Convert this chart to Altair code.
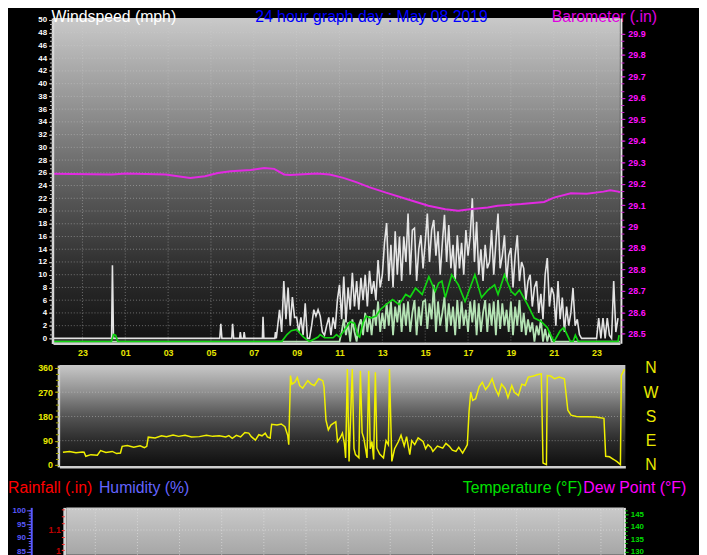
import altair as alt
import pandas as pd

W, H = 699, 547
FONT = "Liberation Sans"

# ---------------- axis domains / tick labels ----------------
X_DOMAIN = [-2.375, 24.09]          # hours of May 08 (negative = previous evening)
HOUR_TICKS = [-1, 1, 3, 5, 7, 9, 11, 13, 15, 17, 19, 21, 23]

WIND_DOMAIN = [-0.8, 50.3]
WIND_LABELS = [0, 2, 4, 6, 8, 10, 12, 14, 16, 18, 20, 22, 24, 26, 28, 30, 32, 34,
               36, 38, 40, 42, 44, 46, 48, 50]
WIND_GRID = [2, 4, 6, 8, 10, 12, 14, 16, 18, 20, 22, 24, 26, 28, 30, 32, 34, 36,
             38, 40, 42, 44, 46, 48]
BARO_DOMAIN = [28.456, 29.972]
BARO_LABELS = [28.5, 28.6, 28.7, 28.8, 28.9, 29.0, 29.1, 29.2, 29.3, 29.4, 29.5,
               29.6, 29.7, 29.8, 29.9]
DIR_DOMAIN = [-7.3, 371]
DIR_LABELS = [0, 90, 180, 270, 360]
DIR_GRID = [90, 180, 270]
HUM_DOMAIN = [83.9, 101.0]
HUM_LABELS = [85, 90, 95, 100]
RAIN_DOMAIN = [0.978, 1.211]
RAIN_LABELS = [1.0, 1.1]
RAIN_GRID = [1.1, 1.2]
TEMP_DOMAIN = [128.8, 147.7]
TEMP_LABELS = [130, 135, 140, 145]

# ---------------- data ----------------
# Wind gust (white), sparse early spikes (hour, mph)
GUST_EARLY = [(-2.375, 0), (0.36, 0), (0.40, 11.5), (0.45, 0), (5.41, 0), (5.46, 2.3),
              (5.51, 0), (5.97, 0), (6.01, 2.3), (6.06, 0), (6.34, 0), (6.37, 1.0),
              (6.41, 0), (6.52, 0), (6.55, 1.0), (6.59, 0), (7.40, 0), (7.43, 3.4),
              (7.47, 0), (7.98, 0), (8.01, 1.0), (8.05, 0)]
# Wind gust from 08:12, one reading every 6 minutes
GUST_START = 8.2
GUST = [4.5, 1.0, 9.0, 3.0, 8.0, 2.0, 6.5, 3.3,
        3.3, 1.0, 3.3, 0.5, 5.5, 0.0, 0.0, 2.0, 4.5, 3.5,
        4.5, 3.5, 1.0, 0.5, 2.0, 3.3, 0.5, 3.3, 1.5, 6.0,
        8.4, 3.0, 9.7, 2.5, 8.0, 4.5, 10.3, 5.0, 9.0, 4.5,
        9.5, 6.0, 10.0, 5.0, 10.6, 7.0, 9.0, 6.0, 12.3, 8.0,
        10.0, 15.0, 18.1, 9.0, 14.7, 8.0, 16.8, 10.0, 16.0, 9.0,
        16.0, 12.0, 19.6, 10.0, 17.0, 17.3, 9.0, 14.0, 16.2, 11.0,
        15.0, 19.6, 12.0, 17.0, 18.6, 13.0, 16.8, 10.0, 15.0, 19.4,
        12.0, 17.8, 11.0, 14.7, 9.0, 16.2, 11.0, 15.0, 10.0, 17.0,
        13.0, 16.0, 22.0, 12.0, 18.3, 10.0, 14.0, 9.0, 14.7, 11.0,
        12.0, 17.0, 10.0, 15.0, 19.6, 11.0, 13.0, 16.2, 9.0, 13.0,
        14.2, 8.0, 13.0, 16.2, 9.0, 12.0, 11.0, 6.0, 9.0, 10.0,
        5.0, 8.0, 9.0, 4.0, 7.0, 3.0, 10.0, 12.6, 5.0, 8.0,
        6.9, 2.0, 9.0, 3.0, 6.4, 1.0, 5.0, 2.0, 4.0, 7.9,
        2.0, 3.0, 0.6, 0.0, 0.0, 0.0, 0.0, 0.0, 0.0, 0.0,
        0.0, 3.2, 0.0, 3.2, 0.0, 3.2, 0.5, 0.0, 9.0, 1.0, 3.2]

# Wind speed (pale green) from 11:00, every 6 minutes; baseline drawn at -0.5
SPEED_START = 11.0
SPEED = [-0.5, 1.0, 3.0, 0.5, 2.5, -0.5, 3.0, 1.0, -0.5, 2.0,
         3.0, 0.5, 4.0, 1.0, 3.5, 0.5, 4.5, 2.0, 5.8, 1.0,
         4.0, 1.5, 5.5, 2.0, 5.8, 0.5, 5.0, 2.5, 6.0, 1.0,
         5.5, 2.0, 5.8, 1.0, 4.0, 6.0, 0.5, 5.0, 2.0, 5.8,
         6.0, 1.5, 5.5, 3.0, 8.4, 1.0, 5.8, 2.0, 4.0, 6.5,
         1.0, 5.5, 2.0, 5.0, 0.5, 6.0, 1.5, 5.8, 2.0, 4.5,
         1.0, 5.8, 2.5, 6.0, 0.5, 5.5, 1.0, 4.0, 6.0, 1.0,
         5.5, 2.0, 5.8, 0.5, 6.0, 1.5, 5.5, 2.0, 4.5, 1.0,
         5.8, 0.5, 5.0, 2.0, 6.0, 1.0, 4.0, 0.5, 3.0, 1.0,
         2.5, -0.5, 2.0, 0.5, 3.0, -0.5, 1.5, -0.5, 1.0, -0.5,
         -0.5]
SPEED_EDGES = [(-2.375, -0.5), (10.9, -0.5), (21.1, -0.5), (24.09, -0.5)]

# Average wind (green line)
AVG = [(-2.375, -0.5), (0.35, -0.5), (0.45, 0.6), (0.55, 0.5), (0.65, -0.5), (8.3, -0.5),
       (8.55, 0.6), (8.75, 1.2), (9.01, 1.4), (9.15, 0.8), (9.32, 0.2), (9.6, -0.5),
       (10.0, 0.2), (10.1, 0.6), (10.3, 0.1), (10.7, 0.1), (10.86, 0.6), (11.0, 0.2),
       (11.32, 1.7), (11.5, 2.6), (11.7, 2.4), (11.85, 0.5), (11.94, 0.2), (12.1, 2.5),
       (12.24, 3.5), (12.45, 3.2), (12.71, 3.5), (12.9, 4.5), (13.17, 5.3), (13.48, 6.1),
       (13.78, 5.3), (14.09, 6.9), (14.3, 6.5), (14.55, 7.9), (14.86, 6.9), (15.17, 9.7),
       (15.47, 7.4), (15.63, 8.7), (15.78, 9.0), (15.94, 6.4), (16.24, 10.0), (16.55, 8.4),
       (16.86, 5.8), (17.1, 8.0), (17.32, 10.0), (17.63, 6.4), (17.93, 7.6), (18.24, 8.4),
       (18.40, 6.9), (18.70, 10.0), (19.01, 7.4), (19.2, 6.8), (19.40, 7.6), (19.78, 5.3),
       (20.09, 3.2), (20.40, 2.7), (20.70, 1.7), (21.01, -0.5), (21.3, 1.2), (21.47, 1.7),
       (21.78, -0.5), (21.9, -0.5), (22.01, 0.5), (22.15, -0.5), (24.0, -0.5), (24.05, 0.5)]

# Barometer (inHg)
BARO = [(-2.375, 29.246), (0.38, 29.243), (1.03, 29.247), (2.88, 29.243), (4.03, 29.227),
        (4.72, 29.235), (5.32, 29.250), (5.92, 29.258), (6.85, 29.264), (7.49, 29.273),
        (7.95, 29.269), (8.41, 29.243), (8.69, 29.240), (9.94, 29.247), (10.54, 29.243),
        (11.18, 29.227), (11.78, 29.207), (12.38, 29.184), (13.17, 29.158), (14.09, 29.130),
        (15.15, 29.097), (15.94, 29.081), (16.54, 29.074), (17.09, 29.081), (17.92, 29.089),
        (18.38, 29.097), (19.49, 29.105), (20.55, 29.115), (21.01, 29.135), (21.80, 29.155),
        (22.54, 29.153), (23.32, 29.163), (23.64, 29.169), (24.01, 29.163), (24.09, 29.160)]

# Wind direction (degrees)
DIR = [(-2.21, 47), (-1.9, 50), (-1.6, 45), (-1.3, 48), (-1.22, 47), (-1.14, 32), (-0.9, 38),
       (-0.6, 36), (-0.45, 53), (-0.2, 46), (0.1, 50), (0.3, 42), (0.48, 44), (0.56, 69),
       (0.8, 72), (1.1, 66), (1.4, 71), (1.6, 64), (1.71, 69), (1.78, 103), (2.1, 100),
       (2.4, 108), (2.63, 105), (2.94, 111), (3.2, 106), (3.5, 110), (3.8, 104), (4.17, 105),
       (4.5, 110), (4.8, 106), (5.1, 108), (5.4, 104), (5.55, 109), (5.71, 99), (5.9, 110),
       (6.1, 104), (6.3, 120), (6.48, 118), (6.6, 105), (6.79, 92), (6.95, 112), (7.1, 108),
       (7.25, 118), (7.35, 104), (7.48, 99), (7.55, 151), (7.8, 148), (8.0, 152), (8.17, 142),
       (8.3, 110), (8.35, 75), (8.43, 332), (8.5, 300), (8.63, 307), (8.75, 325), (8.86, 295),
       (9.0, 285), (9.24, 313), (9.4, 300), (9.55, 295), (9.75, 320), (9.94, 313), (10.0, 290),
       (10.09, 166), (10.2, 130), (10.32, 148), (10.45, 155), (10.55, 160), (10.63, 87),
       (10.75, 100), (10.86, 118), (10.95, 80), (11.01, 26), (11.09, 356), (11.17, 13),
       (11.32, 356), (11.4, 60), (11.47, 38), (11.63, 26), (11.70, 350), (11.78, 120),
       (11.86, 99), (12.01, 26), (12.09, 350), (12.16, 60), (12.24, 87), (12.32, 20),
       (12.40, 344), (12.47, 62), (12.6, 40), (12.78, 26), (12.9, 90), (13.01, 75),
       (13.06, 356), (13.17, 13), (13.3, 60), (13.48, 87), (13.6, 110), (13.75, 70),
       (13.86, 105), (14.01, 38), (14.1, 90), (14.24, 75), (14.4, 100), (14.63, 87),
       (14.75, 60), (14.86, 75), (15.0, 65), (15.09, 50), (15.3, 70), (15.55, 62), (15.7, 80),
       (15.86, 69), (16.0, 55), (16.17, 50), (16.3, 65), (16.48, 44), (16.6, 60), (16.70, 75),
       (16.78, 197), (16.86, 271), (16.95, 240), (17.09, 246), (17.25, 290), (17.40, 307),
       (17.55, 280), (17.70, 295), (17.86, 320), (18.0, 285), (18.16, 258), (18.3, 300),
       (18.47, 283), (18.6, 250), (18.78, 295), (18.9, 270), (19.09, 258), (19.25, 300),
       (19.40, 295), (19.55, 326), (19.8, 330), (20.0, 336), (20.16, 338), (20.24, 7),
       (20.40, 1), (20.44, 332), (20.6, 330), (20.78, 320), (21.0, 326), (21.24, 320),
       (21.40, 203), (21.55, 185), (21.8, 180), (22.01, 179), (22.32, 179), (22.7, 178),
       (23.09, 173), (23.17, 32), (23.35, 30), (23.55, 20), (23.7, 12), (23.86, 1),
       (23.90, 332), (24.05, 356)]

# ---------------- layout (pixel ranges inside the chart) ----------------
TOP_X = [45.5, 619]
WIND_Y = [336.2, 7]
BARO_Y = [336, 7]
MID_X = [52, 624.5]
DIR_Y = [461, 358]
BOT_X = [59, 623]
BOT_Y = [550, 502]


def sc(domain, rng):
    return alt.Scale(domain=domain, range=rng, nice=False, zero=False)


def grad(stops):
    return alt.Gradient(gradient="linear", x1=0, x2=0, y1=0, y2=1,
                        stops=[alt.GradientStop(offset=o, color=c) for o, c in stops])


COMMON = dict(grid=False, title=None, labelFont=FONT, labelOverlap=False,
              labelFlush=False, zindex=1)
HOUR_EXPR = "(((datum.value + 24) % 24) < 10 ? '0' : '') + ((datum.value + 24) % 24)"
DIR_EXPR = ("datum.value == 0 ? 'N' : datum.value == 90 ? 'E' : datum.value == 180 ? 'S' : "
            "datum.value == 270 ? 'W' : 'N'")

WIND_MINOR = [round(i * 2 / 3, 4) for i in range(76)]
BARO_MINOR = [round(28.5 + i / 30, 4) for i in range(43)]
DIR_MINOR = [i * 22.5 for i in range(17)]
HUM_MINOR = list(range(84, 101))
RAIN_MINOR = [round(1.0 + i / 30, 4) for i in range(7)]
TEMP_MINOR = [round(130 + i * 5 / 3, 3) for i in range(11)]


def box(xd, yd):
    return pd.DataFrame({"x1": [xd[0]], "x2": [xd[1]], "y1": [yd[0]], "y2": [yd[1]]})


layers = []

# ================= TOP PANEL: wind + barometer =================
layers.append(
    alt.Chart(box(X_DOMAIN, WIND_DOMAIN)).mark_rect(
        fill=grad([(0, "#c9c9c9"), (0.3, "#8c8c8c"), (0.55, "#575757"),
                   (0.78, "#2c2c2c"), (1, "#121212")])
    ).encode(
        x=alt.X("x1:Q", scale=sc(X_DOMAIN, TOP_X),
                axis=alt.Axis(orient="bottom", offset=-211, values=HOUR_TICKS,
                              labelExpr=HOUR_EXPR, ticks=False, tickSize=0, labelPadding=5,
                              labelColor="#e6e600", labelFontSize=9, labelFontWeight="bold",
                              domainColor="#cfcfcf", domainWidth=2.5, **COMMON)),
        x2="x2:Q",
        y=alt.Y("y1:Q", scale=sc(WIND_DOMAIN, WIND_Y),
                axis=alt.Axis(orient="left", offset=-45, values=WIND_LABELS, format="d",
                              labelColor="#ffffff", labelFontSize=8, labelFontWeight="bold",
                              tickColor="#c8c8c8", tickSize=4, labelPadding=2,
                              domainColor="#d8d8d8", domainWidth=2.5, **COMMON)),
        y2="y2:Q",
    )
)

hgrid = pd.DataFrame({"v": WIND_GRID, "x1": X_DOMAIN[0], "x2": X_DOMAIN[1]})
layers.append(
    alt.Chart(hgrid).mark_rule(color="#d0d0d0", opacity=0.45, strokeDash=[1, 2], strokeWidth=1)
    .encode(
        x=alt.X("x1:Q", scale=sc(X_DOMAIN, TOP_X), axis=None), x2="x2:Q",
        y=alt.Y("v:Q", scale=sc(WIND_DOMAIN, WIND_Y),
                axis=alt.Axis(orient="left", offset=-45, values=WIND_MINOR, labels=False,
                              domain=False, tickColor="#b8b8b8", tickSize=3, grid=False,
                              title=None, zindex=1)),
    )
)
vgrid = pd.DataFrame({"h": HOUR_TICKS, "y1": WIND_DOMAIN[0], "y2": WIND_DOMAIN[1]})
layers.append(
    alt.Chart(vgrid).mark_rule(color="#d0d0d0", opacity=0.45, strokeDash=[1, 2], strokeWidth=1)
    .encode(
        x=alt.X("h:Q", scale=sc(X_DOMAIN, TOP_X), axis=None),
        y=alt.Y("y1:Q", scale=sc(WIND_DOMAIN, WIND_Y), axis=None), y2="y2:Q",
    )
)

gust_df = pd.DataFrame(
    GUST_EARLY + [(round(GUST_START + 0.1 * i, 2), v) for i, v in enumerate(GUST)],
    columns=["t", "v"])
speed_df = pd.DataFrame(
    SPEED_EDGES[:2] + [(round(SPEED_START + 0.1 * i, 2), v) for i, v in enumerate(SPEED)]
    + SPEED_EDGES[2:], columns=["t", "v"])
avg_df = pd.DataFrame(AVG, columns=["t", "v"])
baro_df = pd.DataFrame(BARO, columns=["t", "v"])
dir_df = pd.DataFrame(DIR, columns=["t", "v"])


def wind_line(df, color, width, opacity=1.0):
    return alt.Chart(df).mark_line(color=color, strokeWidth=width, opacity=opacity,
                                   interpolate="linear").encode(
        x=alt.X("t:Q", scale=sc(X_DOMAIN, TOP_X), axis=None),
        y=alt.Y("v:Q", scale=sc(WIND_DOMAIN, WIND_Y), axis=None),
        order="t:Q",
    )


layers.append(wind_line(gust_df, "#eeeeee", 1.6, 0.95))
layers.append(wind_line(speed_df, "#bdeebd", 1.8, 0.95))
layers.append(wind_line(avg_df, "#12d612", 1.7))

layers.append(
    alt.Chart(baro_df).mark_line(color="#e22ae2", strokeWidth=2).encode(
        x=alt.X("t:Q", scale=sc(X_DOMAIN, TOP_X), axis=None),
        y=alt.Y("v:Q", scale=sc(BARO_DOMAIN, BARO_Y),
                axis=alt.Axis(orient="right", offset=-79, values=BARO_LABELS, format=".1~f",
                              labelColor="#ff10ff", labelFontSize=9, labelFontWeight="bold",
                              tickColor="#e020e0", tickSize=4, labelPadding=3,
                              domainColor="#e8e8e8", domainWidth=2, **COMMON)),
    )
)
layers.append(
    alt.Chart(baro_df).mark_line(opacity=0).encode(
        x=alt.X("t:Q", scale=sc(X_DOMAIN, TOP_X), axis=None),
        y=alt.Y("v:Q", scale=sc(BARO_DOMAIN, BARO_Y),
                axis=alt.Axis(orient="right", offset=-79, values=BARO_MINOR, labels=False,
                              domain=False, tickColor="#d020d0", tickSize=3, grid=False,
                              title=None, zindex=1)),
    )
)

# ================= MIDDLE PANEL: wind direction =================
layers.append(
    alt.Chart(box(X_DOMAIN, DIR_DOMAIN)).mark_rect(
        fill=grad([(0, "#c8c8c8"), (0.25, "#939393"), (0.5, "#555555"),
                   (0.75, "#2a2a2a"), (1, "#0e0e0e")])
    ).encode(
        x=alt.X("x1:Q", scale=sc(X_DOMAIN, MID_X),
                axis=alt.Axis(orient="bottom", offset=-86, labels=False, ticks=False,
                              domainColor="#cfcfcf", domainWidth=2.5, grid=False, title=None,
                              zindex=1)),
        x2="x2:Q",
        y=alt.Y("y1:Q", scale=sc(DIR_DOMAIN, DIR_Y),
                axis=alt.Axis(orient="left", offset=-51, values=DIR_LABELS, format="d",
                              labelColor="#e8e800", labelFontSize=9, labelFontWeight="bold",
                              tickColor="#a8a800", tickSize=4, labelPadding=2,
                              domainColor="#cfcfcf", domainWidth=2.5, **COMMON)),
        y2="y2:Q",
    )
)
dgrid = pd.DataFrame({"v": DIR_GRID, "x1": X_DOMAIN[0], "x2": X_DOMAIN[1]})
layers.append(
    alt.Chart(dgrid).mark_rule(color="#d8d8d8", opacity=0.45, strokeDash=[1, 2])
    .encode(
        x=alt.X("x1:Q", scale=sc(X_DOMAIN, MID_X), axis=None), x2="x2:Q",
        y=alt.Y("v:Q", scale=sc(DIR_DOMAIN, DIR_Y),
                axis=alt.Axis(orient="left", offset=-51, values=DIR_MINOR, labels=False,
                              domain=False, tickColor="#a8a800", tickSize=3, grid=False,
                              title=None, zindex=1)),
    )
)
layers.append(
    alt.Chart(dir_df).mark_line(color="#f0f000", strokeWidth=1.5).encode(
        x=alt.X("t:Q", scale=sc(X_DOMAIN, MID_X), axis=None),
        y=alt.Y("v:Q", scale=sc(DIR_DOMAIN, DIR_Y),
                axis=alt.Axis(orient="right", offset=-74, values=DIR_LABELS,
                              labelExpr=DIR_EXPR, ticks=False, tickSize=0, domain=False,
                              labelPadding=25, labelAlign="center", labelColor="#e8e800",
                              labelFontSize=16, **COMMON)),
        order="t:Q",
    )
)

# ================= BOTTOM PANEL (top edge only visible) =================
layers.append(
    alt.Chart(box(X_DOMAIN, HUM_DOMAIN)).mark_rect(
        fill=grad([(0, "#cacaca"), (1, "#a6a6a6")])
    ).encode(
        x=alt.X("x1:Q", scale=sc(X_DOMAIN, BOT_X), axis=None), x2="x2:Q",
        y=alt.Y("y1:Q", scale=sc(HUM_DOMAIN, BOT_Y),
                axis=alt.Axis(orient="left", offset=-23.5, values=HUM_LABELS, format="d",
                              labelColor="#5a5aff", labelFontSize=8, labelFontWeight="bold",
                              tickColor="#5a5aff", tickSize=5, labelPadding=1,
                              domainColor="#5a5aff", domainWidth=2, **COMMON)),
        y2="y2:Q",
    )
)
bvgrid = pd.DataFrame({"h": HOUR_TICKS, "y1": HUM_DOMAIN[0], "y2": HUM_DOMAIN[1]})
layers.append(
    alt.Chart(bvgrid).mark_rule(color="#e8e8e8", opacity=0.6, strokeDash=[1, 2])
    .encode(
        x=alt.X("h:Q", scale=sc(X_DOMAIN, BOT_X), axis=None),
        y=alt.Y("y1:Q", scale=sc(HUM_DOMAIN, BOT_Y),
                axis=alt.Axis(orient="left", offset=-23.5, values=HUM_MINOR, labels=False,
                              domain=False, tickColor="#5a5aff", tickSize=3, grid=False,
                              title=None, zindex=1)),
        y2="y2:Q",
    )
)
rgrid = pd.DataFrame({"v": RAIN_GRID, "x1": X_DOMAIN[0], "x2": X_DOMAIN[1]})
layers.append(
    alt.Chart(rgrid).mark_rule(color="#e8e8e8", opacity=0.6, strokeDash=[1, 2])
    .encode(
        x=alt.X("x1:Q", scale=sc(X_DOMAIN, BOT_X), axis=None), x2="x2:Q",
        y=alt.Y("v:Q", scale=sc(RAIN_DOMAIN, BOT_Y),
                axis=alt.Axis(orient="left", offset=-57, values=RAIN_LABELS, format=".1~f",
                              labelColor="#c00000", labelFontSize=9, labelFontWeight="bold",
                              tickColor="#ff3030", tickSize=3, labelPadding=1,
                              domainColor="#d4d4d4", domainWidth=3, **COMMON)),
    )
)
layers.append(
    alt.Chart(pd.DataFrame({"v": RAIN_MINOR})).mark_point(opacity=0).encode(
        y=alt.Y("v:Q", scale=sc(RAIN_DOMAIN, BOT_Y),
                axis=alt.Axis(orient="left", offset=-57, values=RAIN_MINOR, labels=False,
                              domain=False, tickColor="#ff3030", tickSize=3, grid=False,
                              title=None, zindex=1)),
    )
)
layers.append(
    alt.Chart(pd.DataFrame({"v": TEMP_LABELS})).mark_point(opacity=0).encode(
        y=alt.Y("v:Q", scale=sc(TEMP_DOMAIN, BOT_Y),
                axis=alt.Axis(orient="right", offset=-75.5, values=TEMP_LABELS, format="d",
                              labelColor="#00dd00", labelFontSize=8, labelFontWeight="bold",
                              tickColor="#00b000", tickSize=4, labelPadding=2,
                              domainColor="#e4e4e4", domainWidth=2, **COMMON)),
    )
)
layers.append(
    alt.Chart(pd.DataFrame({"v": TEMP_MINOR})).mark_point(opacity=0).encode(
        y=alt.Y("v:Q", scale=sc(TEMP_DOMAIN, BOT_Y),
                axis=alt.Axis(orient="right", offset=-75.5, values=TEMP_MINOR, labels=False,
                              domain=False, tickColor="#00b000", tickSize=3, grid=False,
                              title=None, zindex=1)),
    )
)

# ================= titles =================
TITLES = [
    ("Windspeed (mph)", "#ffffff", 44, -2, "top"),
    ("24 hour graph day : May 08 2019", "#0000ff", 250, -2, "top"),
    ("Barometer (.in)", "#e000e0", 550, -2, "top"),
    ("Rainfall (.in)", "#ff0000", 0, 482, "middle"),
    ("Humidity (%)", "#6464ff", 92, 482, "middle"),
    ("Temperature (°F)", "#00e000", 460, 482, "middle"),
    ("Dew Point (°F)", "#ff00ff", 582, 482, "middle"),
]
for txt, col, tx, ty, base in TITLES:
    layers.append(
        alt.Chart(pd.DataFrame({"t": [txt]})).mark_text(
            align="left", baseline=base, font=FONT, fontSize=16, color=col
        ).encode(x=alt.value(tx), y=alt.value(ty), text="t:N")
    )

chart = (
    alt.layer(*layers)
    .resolve_scale(x="independent", y="independent")
    .properties(width=W, height=H, background="#000000", padding=0,
                autosize=alt.AutoSizeParams(type="none"))
    .configure_view(stroke=None)
)

chart.save("out.html", embed_options={"renderer": "svg", "actions": False})
